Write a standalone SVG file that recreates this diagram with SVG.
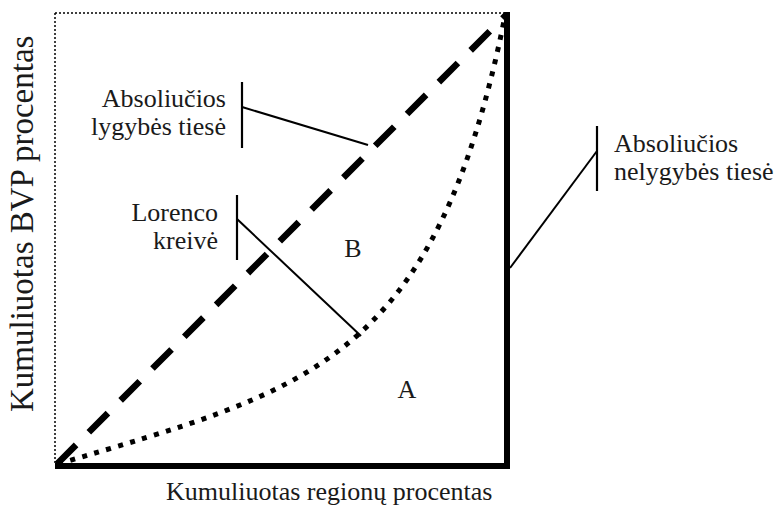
<svg xmlns="http://www.w3.org/2000/svg" width="778" height="506" viewBox="0 0 778 506">
  <style>
    .t { font-family: "Liberation Serif", "Times New Roman", serif; font-size: 26px; fill: #1a1a1a; }
    .lead { stroke: #000; stroke-width: 2; fill: none; }
    .bar { stroke: #000; stroke-width: 2.2; fill: none; }
  </style>
  <rect width="778" height="506" fill="#fff"/>
  <g id="frame">
    <path d="M55,13 H505 M55,13 V463" stroke="#000" stroke-width="1.5" stroke-dasharray="2 2" fill="none"/>
  </g>
  <g id="inequality-line">
    <path d="M55,466 H507 V12" stroke="#000" stroke-width="6" fill="none" stroke-linejoin="miter"/>
  </g>
  <g id="equality-line">
    <path d="M57,464 L506,15" stroke="#000" stroke-width="6.5" stroke-dasharray="27 18" fill="none"/>
  </g>
  <g id="lorenz-curve">
    <path d="M58,464 C306,390 435,365 505,16" stroke="#000" stroke-width="5" stroke-dasharray="5 7.5" fill="none"/>
  </g>
  <g id="connectors">
    <path class="lead" d="M242,107 L368,145"/>
    <path class="lead" d="M237,219 L361,336"/>
    <path class="lead" d="M597,151 L510,268"/>
  </g>
  <g id="label-equality">
    <path class="bar" d="M242,82 V148"/>
    <text class="t" x="226" y="107" text-anchor="end">Absoliučios</text>
    <text class="t" x="226" y="135" text-anchor="end">lygybės tiesė</text>
  </g>
  <g id="label-lorenz">
    <path class="bar" d="M237,195 V260"/>
    <text class="t" x="218" y="221" text-anchor="end">Lorenco</text>
    <text class="t" x="218" y="249" text-anchor="end">kreivė</text>
  </g>
  <g id="label-inequality">
    <path class="bar" d="M597,126 V191"/>
    <text class="t" x="614" y="152">Absoliučios</text>
    <text class="t" x="614" y="180">nelygybės tiesė</text>
  </g>
  <g id="area-B">
    <text class="t" x="353" y="257" text-anchor="middle">B</text>
  </g>
  <g id="area-A">
    <text class="t" x="407" y="398" text-anchor="middle">A</text>
  </g>
  <g id="axis-labels">
    <text class="t" x="166" y="500">Kumuliuotas regionų procentas</text>
    <text class="t" style="font-size:33px" transform="translate(33,412) rotate(-90)">Kumuliuotas BVP procentas</text>
  </g>
</svg>
